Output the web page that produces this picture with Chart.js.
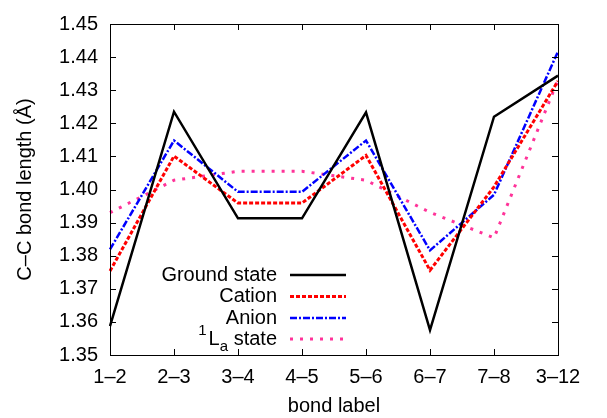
<!DOCTYPE html>
<html>
<head>
<meta charset="utf-8">
<script src="https://cdn.jsdelivr.net/npm/chart.js@4/dist/chart.umd.min.js"></script>
<style>
  html, body { margin: 0; padding: 0; background: #fff; }
  #wrap { width: 607px; height: 418px; }
</style>
</head>
<body>
<div id="wrap"><canvas id="myChart" width="607" height="418"></canvas></div>
<script>
const bondLabels = ["1\u20132", "2\u20133", "3\u20134", "4\u20135", "5\u20136", "6\u20137", "7\u20138", "3\u201312"];
const groundState = [1.3587, 1.4235, 1.3913, 1.3913, 1.4233, 1.3575, 1.422, 1.4344];
const cation = [1.3754, 1.4101, 1.3959, 1.3959, 1.4103, 1.3756, 1.4008, 1.4328];
const anion = [1.3819, 1.4148, 1.3993, 1.3993, 1.4148, 1.3816, 1.3984, 1.4417];
const laState = [1.393, 1.4028, 1.4055, 1.4055, 1.4028, 1.3931, 1.3854, 1.4331];
const yTicks = [1.35, 1.36, 1.37, 1.38, 1.39, 1.40, 1.41, 1.42, 1.43, 1.44, 1.45];

const FONT = "'Liberation Sans', Arial, sans-serif";
const FS = 20;

// gnuplot style frame with inward ticks, plus the key inside the plot
const framePlugin = {
  id: "frame",
  afterDatasetsDraw(chart) {
    const ctx = chart.ctx;
    const a = chart.chartArea;
    const x = chart.scales.x;
    const y = chart.scales.y;
    const len = 6;
    ctx.save();
    ctx.strokeStyle = "#000";
    ctx.lineWidth = 1;
    ctx.setLineDash([]);
    ctx.beginPath();
    bondLabels.forEach((l, i) => {
      const px = Math.round(x.getPixelForValue(i)) + 0.5;
      ctx.moveTo(px, a.bottom);
      ctx.lineTo(px, a.bottom - len);
      ctx.moveTo(px, a.top);
      ctx.lineTo(px, a.top + len);
    });
    yTicks.forEach((v) => {
      const py = Math.round(y.getPixelForValue(v)) + 0.5;
      ctx.moveTo(a.left, py);
      ctx.lineTo(a.left + len, py);
      ctx.moveTo(a.right, py);
      ctx.lineTo(a.right - len, py);
    });
    ctx.stroke();
    ctx.strokeRect(Math.round(a.left) + 0.5, Math.round(a.top) + 0.5,
      Math.round(a.right - a.left), Math.round(a.bottom - a.top));

    // key
    const textRight = 277;
    const lineX1 = 290;
    const lineX2 = 346;
    const rowY = [275, 296.5, 318, 339];
    ctx.font = FS + "px " + FONT;
    ctx.fillStyle = "#000";
    ctx.textBaseline = "middle";
    chart.data.datasets.forEach((ds, i) => {
      const ry = rowY[i];
      ctx.textAlign = "right";
      if (i === 3) {
        ctx.fillText(" state", textRight, ry);
        const w = ctx.measureText(" state").width;
        ctx.font = "15px " + FONT;
        const wa = ctx.measureText("a").width;
        ctx.fillText("a", textRight - w, ry + 8);
        ctx.font = FS + "px " + FONT;
        const wl = ctx.measureText("L").width;
        ctx.fillText("L", textRight - w - wa, ry);
        ctx.font = "15px " + FONT;
        ctx.fillText("1", textRight - w - wa - wl - 2, ry - 8);
        ctx.font = FS + "px " + FONT;
      } else {
        ctx.fillText(ds.label, textRight, ry);
      }
      ctx.strokeStyle = ds.borderColor;
      ctx.lineWidth = ds.borderWidth;
      ctx.setLineDash(ds.borderDash || []);
      ctx.beginPath();
      ctx.moveTo(lineX1, ry);
      ctx.lineTo(lineX2, ry);
      ctx.stroke();
    });
    ctx.restore();
  },
};

const data = {
  labels: bondLabels,
  datasets: [
    {
      label: "Ground state",
      data: groundState,
      borderColor: "#000000",
      borderWidth: 2.5,
    },
    {
      label: "Cation",
      data: cation,
      borderColor: "#ff0000",
      borderWidth: 3,
      borderDash: [4, 2],
    },
    {
      label: "Anion",
      data: anion,
      borderColor: "#0000ff",
      borderWidth: 2.5,
      borderDash: [7, 2, 2, 2],
    },
    {
      label: "1La state",
      data: laState,
      borderColor: "#ff3399",
      borderWidth: 3,
      borderDash: [3, 7],
    },
  ],
};

const config = {
  type: "line",
  data,
  options: {
    responsive: false,
    animation: false,
    layout: { padding: { left: 0, right: 49, top: 20, bottom: 0 } },
    elements: {
      point: { radius: 0 },
      line: { tension: 0, fill: false, borderJoinStyle: "miter" },
    },
    plugins: {
      legend: { display: false },
      tooltip: { enabled: false },
    },
    scales: {
      x: {
        type: "category",
        offset: false,
        grid: { display: false, drawTicks: false },
        border: { display: false },
        ticks: {
          color: "#000",
          font: { family: FONT, size: FS },
          padding: 10,
          maxRotation: 0,
          autoSkip: false,
        },
        title: {
          display: true,
          text: "bond label",
          color: "#000",
          font: { family: FONT, size: FS },
          padding: { top: 0, bottom: 0 },
        },
        afterFit(scale) {
          scale.height = 63;
        },
      },
      y: {
        min: 1.35,
        max: 1.45,
        grid: { display: false, drawTicks: false },
        border: { display: false },
        ticks: {
          stepSize: 0.01,
          color: "#000",
          font: { family: FONT, size: FS },
          padding: 12,
          callback: (v) => Number(v).toFixed(2),
        },
        title: {
          display: true,
          text: "C\u2013C bond length (\u00c5)",
          color: "#000",
          font: { family: FONT, size: FS },
          padding: { top: 13, bottom: 0 },
        },
        afterFit(scale) {
          scale.width = 110;
        },
      },
    },
  },
  plugins: [framePlugin],
};

const myChart = new Chart(document.getElementById("myChart"), config);
</script>
</body>
</html>
